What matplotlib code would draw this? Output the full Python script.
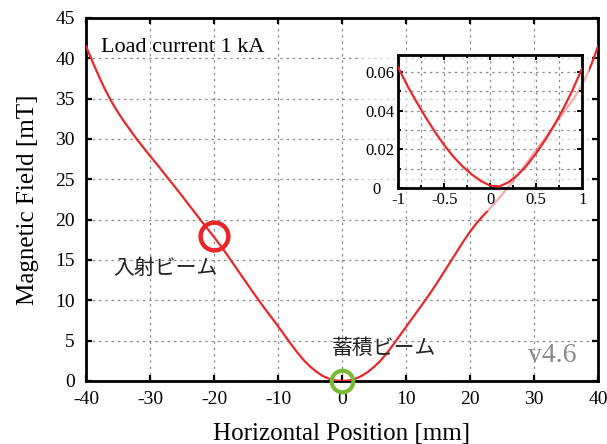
import matplotlib
matplotlib.use('Agg')
import matplotlib.pyplot as plt
from matplotlib.patches import Rectangle
from matplotlib.ticker import MultipleLocator, FuncFormatter

plt.rcParams['font.family'] = ['Liberation Serif', 'Noto Sans CJK JP']
plt.rcParams['axes.unicode_minus'] = False

# field profile along the horizontal axis, load current 1 kA
position_mm = list(range(-40, 41))
field_mT = [41.5, 39.6, 37.8, 36.1, 34.6, 33.3, 32.1, 31.0, 29.9, 28.9,
            27.9, 26.95, 25.95, 24.95, 23.95, 22.95, 21.9, 20.9, 19.85, 18.85,
            17.85, 16.8, 15.7, 14.55, 13.4, 12.25, 11.1, 10.0, 8.9, 7.85,
            6.8, 5.7, 4.6, 3.55, 2.6, 1.8, 1.15, 0.62, 0.27, 0.07,
            0.0,
            0.06, 0.25, 0.6, 1.1, 1.75, 2.5, 3.45, 4.5, 5.6, 6.7,
            7.8, 8.9, 10.0, 11.15, 12.35, 13.6, 14.85, 16.1, 17.35, 18.5,
            19.55, 20.45, 21.3, 22.2, 23.1, 24.05, 25.05, 26.1, 27.2, 28.3,
            29.35, 30.4, 31.5, 32.6, 33.7, 34.8, 36.0, 37.5, 39.3, 41.5]

# close-up around the stored beam orbit
zoom_mm = [-1.0, -0.9, -0.8, -0.7, -0.6, -0.5, -0.4, -0.3, -0.2, -0.1, 0.0,
           0.1, 0.2, 0.3, 0.4, 0.5, 0.6, 0.7, 0.8, 0.9, 1.0]
zoom_mT = [0.0624, 0.0530, 0.0445, 0.0365, 0.0290, 0.0222, 0.0162, 0.0112,
           0.0070, 0.0036, 0.0012, 0.0008, 0.0030, 0.0068, 0.0118, 0.0180,
           0.0250, 0.0328, 0.0415, 0.0512, 0.0620]

injection_pos = (-20, 18.0)
stored_pos = (0, 0.0)

curve_color = '#e8282b'


def style_frame(axis, spine_w, tick_len, tick_w):
    for sp in axis.spines.values():
        sp.set_linewidth(spine_w)
    axis.tick_params(which='both', direction='in', top=True, right=True,
                     width=tick_w, length=tick_len, colors='black')
    axis.tick_params(which='minor', length=tick_len * 0.6)
    axis.grid(True, which='both', linestyle=(0, (2, 3)), color='#8c8c8c',
              linewidth=0.9)
    axis.set_axisbelow(True)


def inset_y_label(v, p):
    # zero label sits a little further out than the others
    return '0   ' if v == 0 else '%g' % v


fig = plt.figure(figsize=(6.07, 4.44), dpi=100)
ax = fig.add_axes([0.1417, 0.1419, 0.8435, 0.8176])

ax.plot(position_mm, field_mT, color=curve_color, linewidth=1.6, zorder=3,
        solid_joinstyle='round')
ax.plot(*injection_pos, 'o', markersize=20, markerfacecolor='none',
        markeredgecolor='#e8262a', markeredgewidth=3.2, zorder=4)
ax.plot(*stored_pos, 'o', markersize=15.5, markerfacecolor='none',
        markeredgecolor='#77bb35', markeredgewidth=3.0, zorder=4,
        clip_on=False)

ax.set_xlim(-40, 40)
ax.set_ylim(0, 45)
ax.xaxis.set_major_locator(MultipleLocator(10))
ax.yaxis.set_major_locator(MultipleLocator(5))
style_frame(ax, 2.0, 4.5, 1.6)
ax.tick_params(labelsize=14)
ax.tick_params(axis='y', pad=8)
ax.tick_params(axis='x', pad=7)
ax.set_xlabel('Horizontal Position [mm]', fontsize=18, labelpad=11)
ax.set_ylabel('Magnetic Field [mT]', fontsize=18, labelpad=12)

ax.text(-37.7, 41.3, 'Load current 1 kA', fontsize=16, va='center')
ax.text(-35.8, 14.0, '入射ビーム', fontsize=15, va='center',
        family='Noto Sans CJK JP', color='#222222')
ax.text(-1.6, 4.1, '蓄積ビーム', fontsize=15, va='center',
        family='Noto Sans CJK JP', color='#222222')
ax.text(36.7, 3.2, 'v4.6', fontsize=20, ha='right', va='center',
        color='#8a8a8a')

# inset drawn over a translucent panel so the main curve stays faintly visible
ins = fig.add_axes([0.656, 0.5766, 0.3031, 0.3002], zorder=2)
ins.set_facecolor('none')
ins.plot(zoom_mm, zoom_mT, color=curve_color, linewidth=1.6, zorder=3,
         solid_joinstyle='round')
ins.set_xlim(-1, 1)
ins.set_ylim(0, 0.069)
ins.xaxis.set_major_locator(MultipleLocator(0.5))
ins.xaxis.set_minor_locator(MultipleLocator(0.25))
ins.yaxis.set_major_locator(MultipleLocator(0.02))
ins.yaxis.set_minor_locator(MultipleLocator(0.01))
ins.xaxis.set_major_formatter(FuncFormatter(lambda v, p: '%g' % v))
ins.yaxis.set_major_formatter(FuncFormatter(inset_y_label))
style_frame(ins, 2.0, 3.5, 1.4)
ins.tick_params(labelsize=12, pad=3)

fig.canvas.draw()
bb = ins.get_tightbbox(fig.canvas.get_renderer())
bb = bb.transformed(fig.transFigure.inverted())
panel = Rectangle((bb.x0 - 0.004, bb.y0 - 0.006), bb.width + 0.008,
                  bb.height + 0.008, transform=fig.transFigure,
                  facecolor='white', alpha=0.62, edgecolor='none', zorder=1)
fig.patches.append(panel)

fig.savefig('out.png', dpi=100)
